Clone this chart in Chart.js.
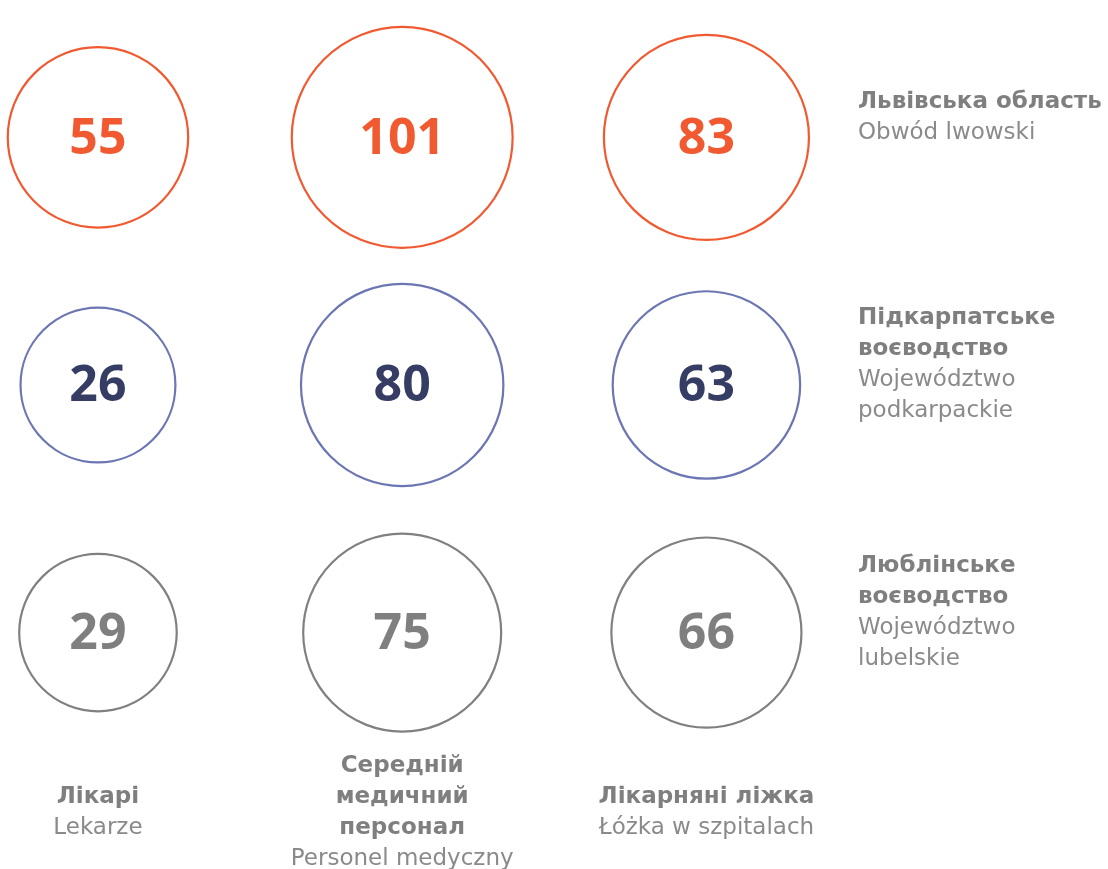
<!DOCTYPE html>
<html>
<head>
<meta charset="utf-8">
<script src="https://cdn.jsdelivr.net/npm/chart.js"></script>
<style>
  html, body { margin: 0; padding: 0; background: #fff; }
  #wrap { width: 1108px; height: 869px; position: relative; }
</style>
</head>
<body>
<div id="wrap"><canvas id="bubbles"></canvas></div>
<script>
// Dane
const categoriesUk = [['Лікарі'], ['Середній', 'медичний', 'персонал'], ['Лікарняні ліжка']];
const categoriesPl = ['Lekarze', 'Personel medyczny', 'Łóżka w szpitalach'];
const regionsUk = [['Львівська область'], ['Підкарпатське', 'воєводство'], ['Люблінське', 'воєводство']];
const regionsPl = [['Obwód lwowski'], ['Województwo', 'podkarpackie'], ['Województwo', 'lubelskie']];
const lvivValues = [55, 101, 83];
const podkarpackieValues = [26, 80, 63];
const lubelskieValues = [29, 75, 66];

const rowValues = [lvivValues, podkarpackieValues, lubelskieValues];
const strokeColors = ['#f15a31', '#6b76b3', '#808080'];
const textColors = ['#f15a31', '#363d64', '#7f7f7f'];
const labelGray = '#7f7f7f';

// promień koła zależny od wartości
const radiusFor = v => 66 + 0.44 * v;

const datasets = rowValues.map((vals, row) => ({
    label: regionsPl[row].join(' '),
    data: vals.map((v, col) => ({ x: col, y: row, r: radiusFor(v), v: v })),
    backgroundColor: 'rgba(255,255,255,0)',
    borderColor: strokeColors[row],
    borderWidth: 2.2,
    hoverRadius: 0,
    hoverBorderWidth: 2.2,
    clip: false
}));

// liczby w kołach + podpisy
const labelsPlugin = {
    id: 'labels',
    afterDatasetsDraw(chart) {
        const c = chart.ctx;
        const xs = chart.scales.x, ys = chart.scales.y;
        c.save();
        c.textAlign = 'center';
        c.textBaseline = 'middle';
        chart.data.datasets.forEach((ds, row) => {
            chart.getDatasetMeta(row).data.forEach((pt, i) => {
                c.font = 'bold 50px "Open Sans", sans-serif';
                c.fillStyle = textColors[row];
                c.fillText(String(ds.data[i].v), pt.x, pt.y + 2);
            });
        });

        const lh = 31;
        // podpisy kategorii pod kołami
        categoriesUk.forEach((lines, col) => {
            const all = lines.length + 1;
            const cx = xs.getPixelForValue(col);
            let y = 813 - (all - 1) * lh / 2;
            c.fillStyle = labelGray;
            c.font = 'bold 23px "DejaVu Sans", sans-serif';
            lines.forEach(t => { c.fillText(t, cx, y); y += lh; });
            c.font = '23px "DejaVu Sans", sans-serif';
            c.fillStyle = '#8a8a8a';
            c.fillText(categoriesPl[col], cx, y);
        });

        // podpisy regionów po prawej
        c.textAlign = 'left';
        regionsUk.forEach((lines, row) => {
            const all = lines.length + regionsPl[row].length;
            let y = ys.getPixelForValue(row) - 20 - (all - 1) * lh / 2;
            const x0 = 858;
            c.fillStyle = labelGray;
            c.font = 'bold 23px "DejaVu Sans", sans-serif';
            lines.forEach(t => { c.fillText(t, x0, y); y += lh; });
            c.font = '23px "DejaVu Sans", sans-serif';
            c.fillStyle = '#8a8a8a';
            regionsPl[row].forEach(t => { c.fillText(t, x0, y); y += lh; });
        });
        c.restore();
    }
};

const ctx = document.getElementById('bubbles').getContext('2d');
const chart = new Chart(ctx, {
    type: 'bubble',
    data: { datasets: datasets },
    options: {
        responsive: true,
        maintainAspectRatio: false,
        animation: false,
        events: [],
        layout: { padding: 0, autoPadding: false },
        plugins: {
            legend: { display: false },
            tooltip: { enabled: false }
        },
        scales: {
            x: { type: 'linear', min: -0.322, max: 3.32, display: false },
            y: { type: 'linear', min: -0.555, max: 2.955, reverse: true, display: false }
        }
    },
    plugins: [labelsPlugin]
});
</script>
</body>
</html>
